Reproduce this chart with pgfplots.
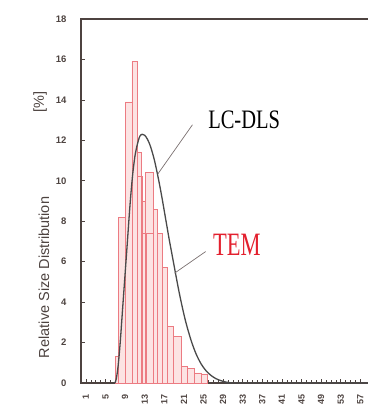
\documentclass[border=0pt]{standalone}
\usepackage{pgfplots}
\pgfplotsset{compat=1.18}
\usepackage{fontspec}
\usepackage{graphicx}
\setmainfont{Liberation Sans}
\newfontfamily\seriffont{Liberation Serif}
\definecolor{barred}{HTML}{EC7B82}
\definecolor{barfill}{HTML}{FCE3E3}
\definecolor{axcol}{HTML}{4D4340}
\definecolor{curvecol}{HTML}{4A4A4A}
\definecolor{temred}{HTML}{E3202E}
\definecolor{leadcol}{HTML}{7A7070}
\begin{document}
\begin{tikzpicture}
\path[use as bounding box] (-81pt,-31pt) rectangle (286pt,383pt);
\begin{axis}[
  at={(0,0)}, anchor=south west,
  scale only axis, width=294pt, height=364pt,
  xmin=0, xmax=60, ymin=0, ymax=18,
  clip=false,
  /pgf/number format/assume math mode=true,
  xtick={1,5,...,57}, minor x tick num=3,
  ytick={0,2,...,18},
  tick pos=left, tick align=inside,
  axis line style={axcol, line width=1.1pt},
  major tick length=4pt, minor tick length=3pt,
  every tick/.style={axcol, line width=0.6pt},
  xticklabel style={yshift=-8pt, rotate=90, anchor=east, font=\bfseries\fontsize{9}{10}\selectfont, text=axcol},
  yticklabel style={xshift=-11pt, font=\bfseries\fontsize{9.5}{11}\selectfont, text=axcol},
]
\addplot[ybar interval, draw=barred, fill=barfill, line width=0.7pt] coordinates {
 (7,1.3) (7.7,8.2) (9,13.9) (10.4,15.9) (11.4,11.4) (12.4,9.0) (13.2,10.4) (14.7,8.6) (15.5,7.4) (16.6,5.7) (17.6,2.8) (18.8,2.3) (20.5,0.8) (21.8,0.7) (23.2,0.5) (24.5,0.45) (25.8,0)
};
\addplot[ybar interval, draw=barred, fill=none, line width=0.5pt] coordinates {
 (11.4,10.2) (12.4,7.4) (13.4,7.4) (14.7,0)
};
\addplot[curvecol, line width=1.3pt, smooth, tension=0.5] coordinates {
 (6.9,0) (7.2,0.2) (7.6,0.9) (8.0,2.0) (8.5,3.7) (9.0,5.4) (9.5,7.1) (10.0,8.8) (10.5,10.2) (11.0,11.2) (11.5,11.8) (12.0,12.2) (12.5,12.3) (13.0,12.25) (13.5,12.08) (14.0,11.82) (14.5,11.45) (15.0,11.0) (15.5,10.45) (16.0,9.85) (16.5,9.2) (17.0,8.5) (17.5,7.8) (18.0,7.1) (18.5,6.45) (19.0,5.8) (19.5,5.15) (20.0,4.52) (20.5,3.94) (21.0,3.4) (21.5,2.91) (22.5,2.08) (23.5,1.43) (24.5,0.95) (25.5,0.61) (26.5,0.38) (27.5,0.22) (28.5,0.12) (29.5,0.05) (30.5,0.01) (31.5,0) (60,0)
};
\draw[leadcol, line width=0.7pt] (axis cs:22.75,12.77) -- (axis cs:15.72,10.35);
\draw[leadcol, line width=0.7pt] (axis cs:25.44,6.5) -- (axis cs:19.08,5.43);
\node[font=\seriffont\fontsize{20.5}{22}\selectfont, inner sep=0pt] at (axis cs:33.3,13.0) {\scalebox{1}[1.3]{LC-DLS}};
\node[font=\seriffont\fontsize{22.5}{24}\selectfont, text=temred, inner sep=0pt] at (axis cs:31.8,6.83) {\scalebox{1}[1.45]{TEM}};
\node[rotate=90, font=\fontsize{14.5}{16}\selectfont, text=axcol, inner sep=0pt] at (rel axis cs:-0.126,0.29) {Relative Size Distribution};
\node[rotate=90, font=\fontsize{14.5}{16}\selectfont, text=axcol, inner sep=0pt] at (rel axis cs:-0.139,0.771) {[\%]};
\end{axis}
\end{tikzpicture}
\end{document}
